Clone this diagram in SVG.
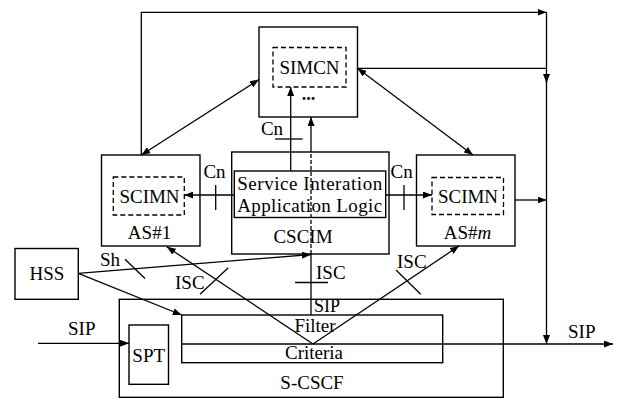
<svg xmlns="http://www.w3.org/2000/svg" width="621" height="399" viewBox="0 0 621 399" font-family="'Liberation Serif', 'Times New Roman', serif" font-size="19">
<style>
text{font-family:'Liberation Serif','Times New Roman',serif;font-size:19px;fill:#000}
.m{text-anchor:middle}
.box{fill:none;stroke:#000;stroke-width:1.4}
.dash{fill:none;stroke:#000;stroke-width:1.3;stroke-dasharray:5,3}
.ln{fill:none;stroke:#000;stroke-width:1.3}
.dl{fill:none;stroke:#000;stroke-width:1.3;stroke-dasharray:4,2}
</style>
<defs>
<marker id="a" viewBox="0 0 9 7" refX="9" refY="3.5" markerWidth="9" markerHeight="7" markerUnits="userSpaceOnUse" orient="auto-start-reverse">
<path d="M0,0 L9,3.5 L0,7 z" fill="#000"/>
</marker>
</defs>
<rect width="621" height="399" fill="#fff"/>

<g id="SIMCN">
<rect class="box" x="259" y="27" width="98.5" height="90"/>
<rect class="dash" x="273" y="47.5" width="73" height="39.5"/>
<text class="m" x="309.5" y="73.5">SIMCN</text>
<text class="m" x="308.5" y="100" style="font-weight:bold;font-size:18px">...</text>
</g>

<g id="AS1">
<rect class="box" x="101.5" y="155" width="98.5" height="91"/>
<rect class="dash" x="113.3" y="177" width="71" height="38"/>
<text class="m" x="149.5" y="203">SCIMN</text>
<text class="m" x="149.5" y="239">AS#1</text>
</g>

<g id="ASm">
<rect class="box" x="416.5" y="155" width="98.5" height="91"/>
<rect class="dash" x="432" y="177.5" width="71.5" height="37"/>
<text class="m" x="468" y="203">SCIMN</text>
<text class="m" x="467.5" y="239">AS#<tspan font-style="italic">m</tspan></text>
</g>

<g id="CSCIM">
<rect class="box" x="231.7" y="152" width="157.3" height="102"/>
<rect class="box" x="234.3" y="171" width="151.4" height="46.5"/>
<text class="m" x="309.7" y="190" textLength="145" lengthAdjust="spacing">Service Interation</text>
<text class="m" x="309.7" y="211.7" textLength="145" lengthAdjust="spacing">Application Logic</text>
<text class="m" x="303" y="243">CSCIM</text>
</g>

<g id="HSS">
<rect class="box" x="15" y="248.5" width="63.3" height="50.8"/>
<text class="m" x="47" y="279.5">HSS</text>
</g>

<g id="SCSCF">
<rect class="box" x="119.3" y="299.3" width="384" height="98"/>
<text class="m" x="312" y="388.5">S-CSCF</text>
</g>

<g id="SPT">
<rect class="box" x="129" y="325" width="39.5" height="59.3"/>
<text class="m" x="148.7" y="361.7">SPT</text>
</g>

<g id="FilterCriteria">
<rect class="box" x="181.7" y="315" width="261" height="47.7"/>
<text class="m" x="315" y="331.5">Filter</text>
<text class="m" x="314" y="359">Criteria</text>
</g>

<g id="connectors">
<path class="ln" d="M141.3,155 V12.3 H546.5" marker-end="url(#a)"/>
<path class="ln" d="M546.5,12.3 V83" marker-end="url(#a)"/>
<path class="ln" d="M546.5,80 V344" marker-end="url(#a)"/>
<path class="ln" d="M357.5,68.3 H546.5"/>
<path class="ln" d="M515,200 H546.5" marker-end="url(#a)"/>
<path class="ln" d="M141.3,155 L259,79.5" marker-start="url(#a)" marker-end="url(#a)"/>
<path class="ln" d="M357.5,68.3 L473,155" marker-start="url(#a)" marker-end="url(#a)"/>
<path class="ln" d="M290.7,171 V87" marker-end="url(#a)"/>
<path class="ln" d="M275,139 H302.7"/>
<text class="m" x="272" y="135">Cn</text>
<path class="ln" d="M234.3,195 H184.3" marker-end="url(#a)"/>
<path class="ln" d="M215.7,185 V210"/>
<text class="m" x="214.5" y="178">Cn</text>
<path class="ln" d="M385.7,195 H432" marker-end="url(#a)"/>
<path class="ln" d="M404,185 V210"/>
<text class="m" x="401.7" y="178">Cn</text>
<path class="ln" d="M311,315 V254"/>
<path class="dl" d="M311,254 V152"/>
<path class="ln" d="M311,152 V117" marker-end="url(#a)"/>
<path class="ln" d="M295,282.5 H328"/>
<text x="316" y="279">ISC</text>
<text x="314" y="312" style="font-size:18px">SIP</text>
<path class="ln" d="M78.3,273.3 L311,254.5" marker-end="url(#a)"/>
<path class="ln" d="M125,259.3 L145,278.5"/>
<text x="100" y="266">Sh</text>
<path class="ln" d="M78.3,273.3 L181.7,315" marker-end="url(#a)"/>
<path class="ln" d="M313,344 L166.7,246.7" marker-end="url(#a)"/>
<path class="ln" d="M200,294.3 L228.3,267.7"/>
<text x="175" y="289">ISC</text>
<path class="ln" d="M313,344 L459,246" marker-end="url(#a)"/>
<path class="ln" d="M396,270 L420.7,294.3"/>
<text x="397" y="268">ISC</text>
<path class="ln" d="M38,343.3 H129" marker-end="url(#a)"/>
<text x="68" y="335">SIP</text>
<path class="ln" d="M181.7,344 H613" marker-end="url(#a)"/>
<text x="568" y="337.7">SIP</text>
</g>
</svg>
